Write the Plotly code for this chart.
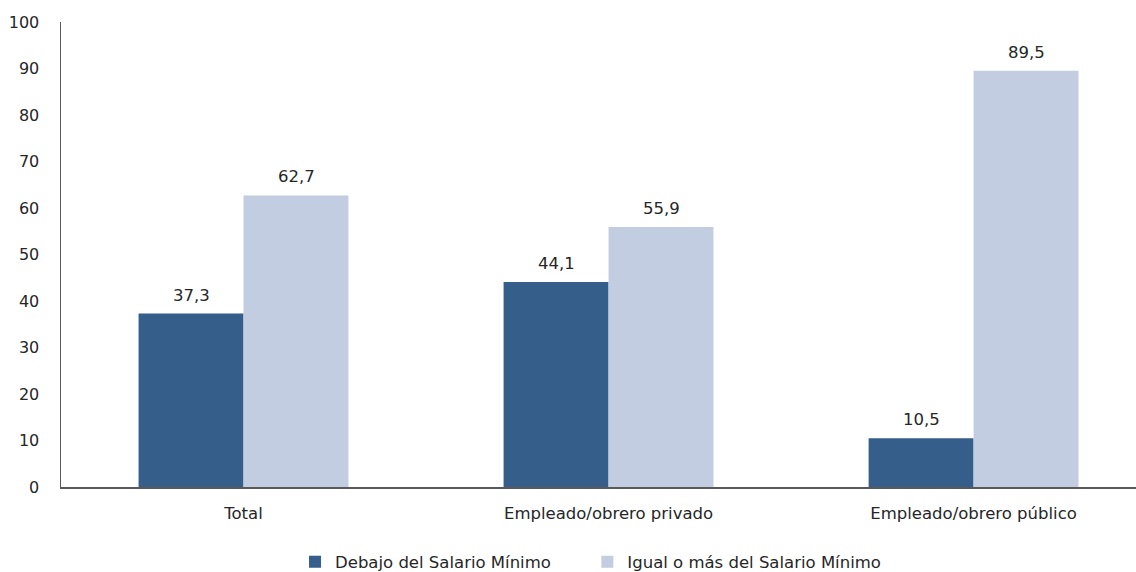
import plotly.graph_objects as go

categories = ["Total", "Empleado/obrero privado", "Empleado/obrero público"]
debajo = [37.3, 44.1, 10.5]
igual_mas = [62.7, 55.9, 89.5]
series_names = ["Debajo del Salario Mínimo", "Igual o más del Salario Mínimo"]
y_ticks = list(range(0, 101, 10))

def fmt(v):
    return f"{v:.1f}".replace(".", ",")

FONT = "DejaVu Sans, Verdana, sans-serif"
TXT = "#262626"
FS = 16.5
PAD = "\u00a0" * 6  # spacing between legend entries

fig = go.Figure()
fig.add_trace(go.Bar(
    x=categories, y=debajo, name=series_names[0] + PAD,
    marker=dict(color="#355E8A", line=dict(width=0)),
))
fig.add_trace(go.Bar(
    x=categories, y=igual_mas, name=series_names[1],
    marker=dict(color="#C2CDE1", line=dict(width=0)),
))

# data labels above each bar (offset by half a bar width from category centre)
half_bar_px = 52.5
for vals, sign in ((debajo, -1), (igual_mas, 1)):
    for cat, v in zip(categories, vals):
        fig.add_annotation(
            x=cat, y=v, xref="x", yref="y", text=fmt(v), showarrow=False,
            xanchor="center", yanchor="bottom", xshift=sign * half_bar_px, yshift=7,
            font=dict(size=FS, color=TXT, family=FONT),
        )

fig.update_layout(
    width=1136, height=572,
    margin=dict(l=61, r=0, t=22, b=85, autoexpand=False),
    paper_bgcolor="white", plot_bgcolor="white",
    barmode="group", bargap=0.425, bargroupgap=0,
    font=dict(family=FONT, size=FS, color=TXT),
    showlegend=True,
    legend=dict(orientation="h", x=0.2177, xanchor="left",
                yref="container", y=10 / 572, yanchor="middle",
                font=dict(size=FS, color=TXT),
                traceorder="normal", itemsizing="constant"),
)
fig.update_xaxes(
    range=[-0.5, 2.445], showline=True, linecolor="#595959", linewidth=1.5,
    showgrid=False, ticks="", ticklabelstandoff=11, fixedrange=True, automargin=False,
)
fig.update_yaxes(
    range=[0, 100], tickvals=y_ticks, showline=True, linecolor="#595959", linewidth=1.5,
    showgrid=False, zeroline=False, ticks="", ticklabelstandoff=17, automargin=False,
    tickfont=dict(size=16), fixedrange=True,
)

post = (
    "var gd=document.getElementById('{plot_id}');"
    "document.documentElement.style.margin='0';"
    "document.body.style.margin='0';"
    "document.documentElement.style.overflow='hidden';"
    "document.body.style.overflow='hidden';"
    "gd.style.position='fixed';gd.style.left='0px';gd.style.top='0px';"
)

fig.write_html(
    "out.html",
    config={"displayModeBar": False, "staticPlot": True},
    post_script=post,
)
